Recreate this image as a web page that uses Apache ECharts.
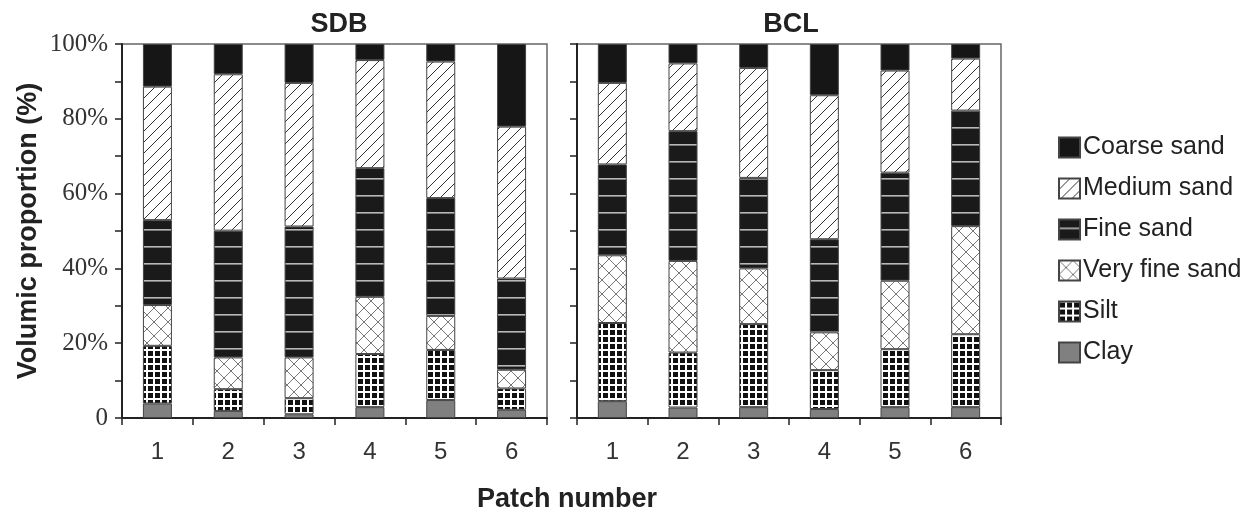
<!DOCTYPE html>
<html>
<head>
<meta charset="utf-8">
<script src="https://cdn.jsdelivr.net/npm/echarts@6/dist/echarts.min.js"></script>
<style>
html,body{margin:0;padding:0;background:#fff;}
#chart{width:1255px;height:516px;}
</style>
</head>
<body>
<div id="chart"></div>
<script>
// ---- data ----
const categories = ['1', '2', '3', '4', '5', '6'];
const panelTitles = ['SDB', 'BCL'];
const fractionNames = ['Clay', 'Silt', 'Very fine sand', 'Fine sand', 'Medium sand', 'Coarse sand'];
const legendOrder = ['Coarse sand', 'Medium sand', 'Fine sand', 'Very fine sand', 'Silt', 'Clay'];
const yTicks = [0, 20, 40, 60, 80, 100];

// SDB (percent)
const sdbClay       = [3.9, 1.9, 1.0, 2.9, 4.8, 2.2];
const sdbSilt       = [15.4, 5.8, 4.3, 14.2, 13.4, 5.7];
const sdbVeryFine   = [10.9, 8.5, 10.9, 15.3, 9.1, 5.0];
const sdbFine       = [22.7, 33.9, 35.0, 34.4, 31.5, 24.4];
const sdbMedium     = [35.7, 41.8, 38.4, 28.9, 36.5, 40.6];
const sdbCoarse     = [11.4, 8.1, 10.4, 4.3, 4.7, 22.1];

// BCL (percent)
const bclClay       = [4.5, 2.8, 2.9, 2.4, 2.9, 2.9];
const bclSilt       = [20.9, 14.7, 22.2, 10.4, 15.5, 19.5];
const bclVeryFine   = [18.1, 24.5, 14.9, 10.1, 18.3, 28.9];
const bclFine       = [24.3, 34.7, 24.2, 24.9, 28.9, 30.9];
const bclMedium     = [21.8, 18.1, 29.4, 38.5, 27.3, 13.9];
const bclCoarse     = [10.4, 5.2, 6.4, 13.7, 7.1, 3.9];

const sdbData = [sdbClay, sdbSilt, sdbVeryFine, sdbFine, sdbMedium, sdbCoarse];
const bclData = [bclClay, bclSilt, bclVeryFine, bclFine, bclMedium, bclCoarse];

// ---- patterns ----
function makeCanvas(w, h, draw) {
  const c = document.createElement('canvas');
  c.width = w; c.height = h;
  const ctx = c.getContext('2d');
  draw(ctx, w, h);
  return c;
}
const patMedium = makeCanvas(11, 11, (ctx, w, h) => {
  ctx.fillStyle = '#fff'; ctx.fillRect(0, 0, w, h);
  ctx.strokeStyle = '#333'; ctx.lineWidth = 1;
  ctx.beginPath();
  ctx.moveTo(-1, h + 1); ctx.lineTo(w + 1, -1);
  ctx.moveTo(-1, 1); ctx.lineTo(1, -1);
  ctx.moveTo(w - 1, h + 1); ctx.lineTo(w + 1, h - 1);
  ctx.stroke();
});
const patFine = makeCanvas(8, 17, (ctx, w, h) => {
  ctx.fillStyle = '#1a1a1a'; ctx.fillRect(0, 0, w, h);
  ctx.fillStyle = '#b8b8b8'; ctx.fillRect(0, 8, w, 1.6);
});
const patVeryFine = makeCanvas(14, 14, (ctx, w, h) => {
  ctx.fillStyle = '#fff'; ctx.fillRect(0, 0, w, h);
  ctx.strokeStyle = '#777'; ctx.lineWidth = 1;
  ctx.beginPath();
  ctx.moveTo(0, 0); ctx.lineTo(w, h);
  ctx.moveTo(w, 0); ctx.lineTo(0, h);
  ctx.stroke();
});
const patSilt = makeCanvas(7, 7, (ctx, w, h) => {
  ctx.fillStyle = '#fff'; ctx.fillRect(0, 0, w, h);
  ctx.fillStyle = '#111'; ctx.fillRect(1, 1, 5, 5);
});
const fills = {
  'Clay': '#808080',
  'Silt': { image: patSilt, repeat: 'repeat' },
  'Very fine sand': { image: patVeryFine, repeat: 'repeat' },
  'Fine sand': { image: patFine, repeat: 'repeat' },
  'Medium sand': { image: patMedium, repeat: 'repeat' },
  'Coarse sand': '#161616'
};

const chart = echarts.init(document.getElementById('chart'), null, { renderer: 'canvas' });

const grids = [
  { left: 122, right: 708, top: 44, bottom: 98 },
  { left: 577, right: 254, top: 44, bottom: 98 }
];

function xAxis(i) {
  return {
    type: 'category', gridIndex: i, data: categories,
    axisLine: { lineStyle: { color: '#222', width: 2 } },
    axisTick: { show: true, length: 7, lineStyle: { color: '#222', width: 1.5 } },
    axisLabel: { fontFamily: 'Liberation Sans, Arial', fontSize: 24, color: '#333', margin: 22 }
  };
}
function yAxis(i) {
  return {
    type: 'value', gridIndex: i, min: 0, max: 100, interval: 20,
    axisLine: { show: true, lineStyle: { color: '#222', width: 2 } },
    axisTick: { show: true, length: 7, lineStyle: { color: '#222', width: 1.5 } },
    minorTick: { show: true, splitNumber: 2, length: 7, lineStyle: { color: '#222', width: 1.5 } },
    splitLine: { show: false },
    minorSplitLine: { show: false },
    axisLabel: {
      show: i === 0,
      fontFamily: 'Liberation Serif, Times New Roman, serif', fontSize: 25, color: '#333', margin: 14,
      formatter: v => (yTicks.indexOf(v) >= 0 ? (v === 0 ? '0' : v + '%') : '')
    },
    name: i === 0 ? 'Volumic proportion (%)' : '',
    nameLocation: 'middle', nameRotate: 90, nameGap: 80,
    nameTextStyle: { fontFamily: 'Liberation Sans, Arial', fontWeight: 'bold', fontSize: 27, color: '#222' }
  };
}

const series = [];
[sdbData, bclData].forEach((panel, gi) => {
  fractionNames.forEach((name, k) => {
    series.push({
      name: name, type: 'bar', stack: 'p' + gi,
      xAxisIndex: gi, yAxisIndex: gi,
      barWidth: 29,
      data: panel[k],
      itemStyle: { color: fills[name], borderColor: '#444', borderWidth: 1 },
      emphasis: { disabled: true }
    });
  });
});

chart.setOption({
  animation: false,
  backgroundColor: '#fff',
  title: [
    { text: panelTitles[0], left: 334, top: 6, textAlign: 'center',
      textStyle: { fontFamily: 'Liberation Sans, Arial', fontWeight: 'bold', fontSize: 27, color: '#222' } },
    { text: panelTitles[1], left: 786, top: 6, textAlign: 'center',
      textStyle: { fontFamily: 'Liberation Sans, Arial', fontWeight: 'bold', fontSize: 27, color: '#222' } },
    { text: 'Patch number', left: 562, top: 481, textAlign: 'center',
      textStyle: { fontFamily: 'Liberation Sans, Arial', fontWeight: 'bold', fontSize: 27, color: '#222' } }
  ],
  grid: grids.map(g => Object.assign({ show: true, borderColor: '#666', borderWidth: 1.5, backgroundColor: 'transparent' }, g)),
  xAxis: [xAxis(0), xAxis(1)],
  yAxis: [yAxis(0), yAxis(1)],
  legend: {
    data: legendOrder,
    orient: 'vertical',
    left: 1053, top: 130,
    itemWidth: 21, itemHeight: 20, itemGap: 16,
    icon: 'rect',
    textStyle: { fontFamily: 'Liberation Sans, Arial', fontSize: 25, color: '#222', padding: [0, 0, 0, -2] },
    selectedMode: false
  },
  series: series
});
</script>
</body>
</html>
